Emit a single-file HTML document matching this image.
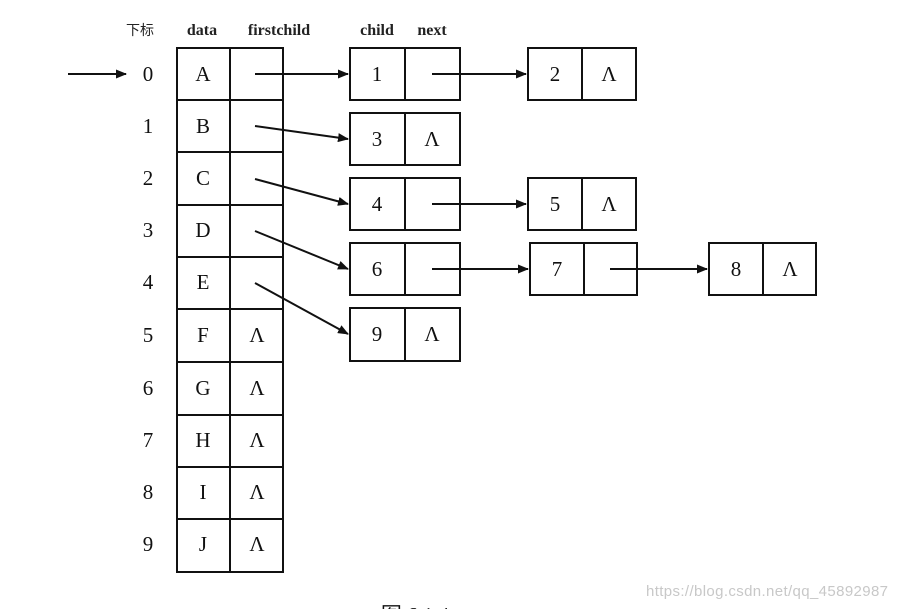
<!DOCTYPE html><html><head><meta charset="utf-8"><style>body{margin:0;background:#fff}</style></head><body>
<svg width="898" height="609" xmlns="http://www.w3.org/2000/svg" font-family="Liberation Serif, serif">
<defs><marker id="a" markerWidth="11" markerHeight="9" refX="10" refY="4.5" orient="auto" markerUnits="userSpaceOnUse"><path d="M0,0 L11,4.5 L0,9 Z" fill="#111"/></marker></defs>
<g font-size="16" fill="#222" text-anchor="middle" font-weight="bold">
<text x="140" y="35" font-family="Noto Sans CJK SC, sans-serif" font-size="14" font-weight="normal">下标</text>
<text x="202" y="35">data</text><text x="279" y="35">firstchild</text>
<text x="377" y="35">child</text><text x="432" y="35">next</text>
</g>
<g stroke="#111" stroke-width="2" fill="none">
<rect x="177" y="48" width="106" height="524"/>
<line x1="230" y1="48" x2="230" y2="572"/>
<line x1="177" y1="100" x2="283" y2="100"/><line x1="177" y1="152" x2="283" y2="152"/><line x1="177" y1="205" x2="283" y2="205"/><line x1="177" y1="257" x2="283" y2="257"/><line x1="177" y1="309" x2="283" y2="309"/><line x1="177" y1="362" x2="283" y2="362"/><line x1="177" y1="415" x2="283" y2="415"/><line x1="177" y1="467" x2="283" y2="467"/><line x1="177" y1="519" x2="283" y2="519"/>
<rect x="350" y="48" width="110" height="52"/><line x1="405" y1="48" x2="405" y2="100"/>
<rect x="350" y="113" width="110" height="52"/><line x1="405" y1="113" x2="405" y2="165"/>
<rect x="350" y="178" width="110" height="52"/><line x1="405" y1="178" x2="405" y2="230"/>
<rect x="350" y="243" width="110" height="52"/><line x1="405" y1="243" x2="405" y2="295"/>
<rect x="350" y="308" width="110" height="53"/><line x1="405" y1="308" x2="405" y2="361"/>
<rect x="528" y="48" width="108" height="52"/><line x1="582" y1="48" x2="582" y2="100"/>
<rect x="528" y="178" width="108" height="52"/><line x1="582" y1="178" x2="582" y2="230"/>
<rect x="530" y="243" width="107" height="52"/><line x1="584" y1="243" x2="584" y2="295"/>
<rect x="709" y="243" width="107" height="52"/><line x1="763" y1="243" x2="763" y2="295"/>
</g>
<g stroke="#111" stroke-width="2" marker-end="url(#a)">
<line x1="68" y1="74" x2="126" y2="74"/>
<line x1="255" y1="74" x2="348" y2="74"/>
<line x1="255" y1="126" x2="348" y2="139"/>
<line x1="255" y1="179" x2="348" y2="204"/>
<line x1="255" y1="231" x2="348" y2="269"/>
<line x1="255" y1="283" x2="348" y2="334"/>
<line x1="432" y1="74" x2="526" y2="74"/>
<line x1="432" y1="204" x2="526" y2="204"/>
<line x1="432" y1="269" x2="528" y2="269"/>
<line x1="610" y1="269" x2="707" y2="269"/>
</g>
<g font-size="21" fill="#111" text-anchor="middle">
<text x="148" y="81">0</text><text x="148" y="133">1</text><text x="148" y="185">2</text><text x="148" y="237">3</text><text x="148" y="289">4</text><text x="148" y="342">5</text><text x="148" y="395">6</text><text x="148" y="447">7</text><text x="148" y="499">8</text><text x="148" y="551">9</text>
<text x="203" y="81">A</text><text x="203" y="133">B</text><text x="203" y="185">C</text><text x="203" y="237">D</text><text x="203" y="289">E</text><text x="203" y="342">F</text><text x="203" y="395">G</text><text x="203" y="447">H</text><text x="203" y="499">I</text><text x="203" y="551">J</text>
<text x="257" y="342">Λ</text><text x="257" y="395">Λ</text><text x="257" y="447">Λ</text><text x="257" y="499">Λ</text><text x="257" y="551">Λ</text>
<text x="377" y="81">1</text><text x="377" y="146">3</text><text x="432" y="146">Λ</text><text x="377" y="211">4</text><text x="377" y="276">6</text><text x="377" y="341">9</text><text x="432" y="341">Λ</text>
<text x="555" y="81">2</text><text x="609" y="81">Λ</text><text x="555" y="211">5</text><text x="609" y="211">Λ</text><text x="557" y="276">7</text>
<text x="736" y="276">8</text><text x="790" y="276">Λ</text>
<text x="415" y="622">图 6.1.4</text>
</g>
<text x="767" y="596" font-family="Liberation Sans, sans-serif" font-size="15" fill="#c8c8c8" text-anchor="middle" textLength="242">https://blog.csdn.net/qq_45892987</text>
</svg></body></html>
